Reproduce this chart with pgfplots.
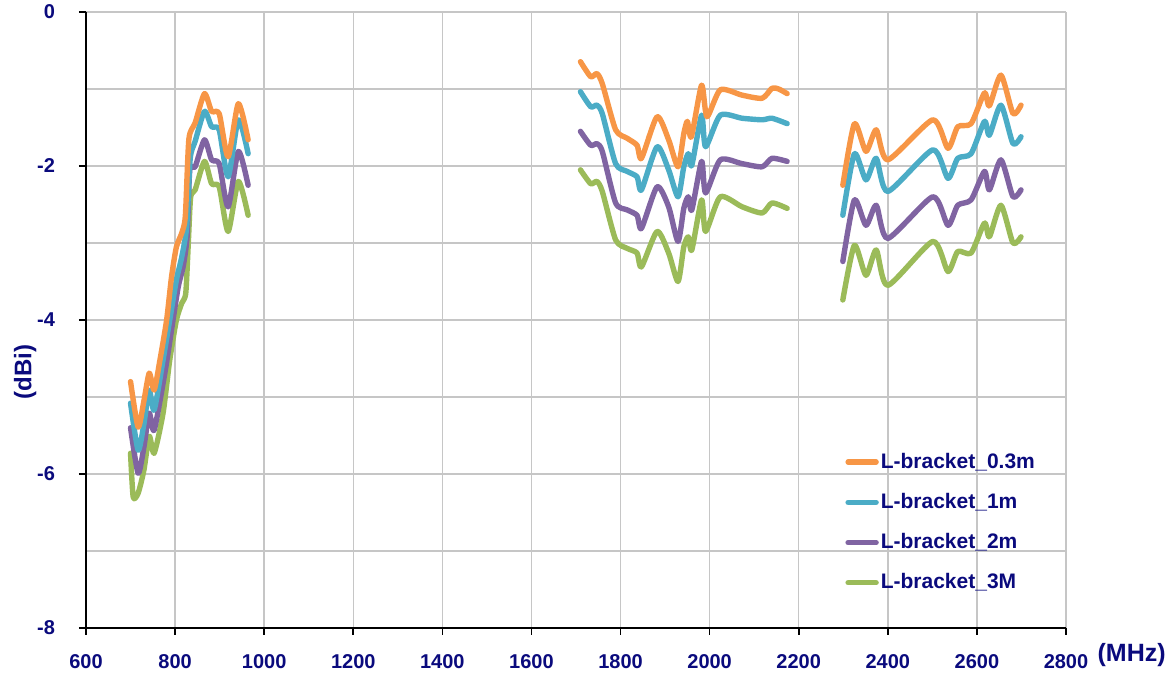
\documentclass[border=0pt]{standalone}
\usepackage{pgfplots}
\pgfplotsset{compat=1.18}
\usepackage{fontspec}
\setmainfont{Liberation Sans}
\definecolor{cO}{HTML}{F79646}
\definecolor{cC}{HTML}{4BACC6}
\definecolor{cP}{HTML}{8064A2}
\definecolor{cG}{HTML}{9BBB59}
\definecolor{navy}{RGB}{10,10,125}
\begin{document}
\begin{tikzpicture}
\useasboundingbox (-43pt,-23pt) rectangle (541.5pt,314pt);
\begin{axis}[at={(0,0)}, anchor=south west, scale only axis, width=490pt, height=308pt,
  xmin=600, xmax=2800, ymin=-8, ymax=0,
  xtick={600,800,...,2800}, ytick={-8,-6,...,0}, minor ytick={-7,-5,-3,-1},
  grid=both,
  major grid style={draw=gray!45, line width=0.75pt},
  minor grid style={draw=gray!45, line width=0.75pt},
  axis lines=left, axis line style={-, black, line width=0.8pt},
  tick align=outside, major tick length=3.5pt, minor tick length=0pt,
  tick style={black, line width=0.8pt},
  /pgf/number format/assume math mode=true, /pgf/number format/1000 sep={},
  ticklabel style={font=\bfseries\fontsize{10}{12}\selectfont, text=navy},
  xticklabel style={yshift=-6pt},
  yticklabel style={xshift=-8.5pt},
  clip=false,
  legend style={at={(rel axis cs:0.7745,0.288)}, anchor=north west, draw=none, fill=none,
    font=\bfseries\fontsize{10.5}{12}\selectfont, text=navy, row sep=9pt, inner sep=0pt,
    nodes={inner sep=1pt}},
  legend cell align=left,
  legend image code/.code={\draw[#1] (0pt,0pt) -- (14pt,0pt);},
  every axis plot/.append style={line width=2.7pt, line cap=round, line join=round, smooth, tension=0.4},
]
\addlegendimage{cO, line width=2.7pt, line cap=round}
\addlegendentry{L-bracket\_0.3m}
\addlegendimage{cC, line width=2.7pt, line cap=round}
\addlegendentry{L-bracket\_1m}
\addlegendimage{cP, line width=2.7pt, line cap=round}
\addlegendentry{L-bracket\_2m}
\addlegendimage{cG, line width=2.7pt, line cap=round}
\addlegendentry{L-bracket\_3M}

% ---- green
\addplot[cG, forget plot] coordinates {(700,-5.73) (706,-6.30) (717,-6.25) (730,-5.95) (742,-5.51) (753,-5.73) (773,-5.21) (788,-4.52) (803,-4.00) (815,-3.78) (824,-3.65) (830,-2.96) (835,-2.40) (845,-2.31) (866,-1.94) (882,-2.23) (899,-2.27) (919,-2.85) (942,-2.20) (964,-2.64)};
\addplot[cG, forget plot] coordinates {(1710,-2.05) (1733,-2.23) (1747,-2.20) (1759,-2.33) (1789,-2.96) (1815,-3.07) (1837,-3.13) (1847,-3.31) (1882,-2.85) (1908,-3.13) (1929,-3.50) (1942,-3.05) (1952,-2.92) (1960,-3.09) (1982,-2.44) (1991,-2.85) (2024,-2.40) (2073,-2.53) (2118,-2.61) (2140,-2.48) (2174,-2.55)};
\addplot[cG, forget plot] coordinates {(2299,-3.74) (2325,-3.03) (2351,-3.42) (2374,-3.09) (2400,-3.55) (2501,-2.98) (2535,-3.37) (2557,-3.11) (2587,-3.13) (2617,-2.74) (2628,-2.92) (2654,-2.51) (2681,-3.00) (2699,-2.92)};
% ---- purple
\addplot[cP, forget plot] coordinates {(700,-5.40) (717,-5.99) (730,-5.65) (742,-5.21) (753,-5.43) (777,-4.69) (792,-4.13) (807,-3.57) (818,-3.31) (827,-2.92) (833,-2.05) (845,-2.01) (866,-1.66) (882,-1.92) (899,-1.97) (919,-2.53) (942,-1.81) (964,-2.25)};
\addplot[cP, forget plot] coordinates {(1710,-1.55) (1733,-1.73) (1747,-1.71) (1759,-1.81) (1789,-2.48) (1815,-2.57) (1837,-2.64) (1847,-2.81) (1882,-2.27) (1908,-2.53) (1929,-2.98) (1942,-2.55) (1952,-2.40) (1960,-2.57) (1982,-1.94) (1991,-2.35) (2024,-1.92) (2073,-1.97) (2118,-2.01) (2140,-1.90) (2174,-1.94)};
\addplot[cP, forget plot] coordinates {(2299,-3.24) (2325,-2.44) (2351,-2.77) (2374,-2.51) (2400,-2.94) (2501,-2.40) (2535,-2.77) (2557,-2.51) (2587,-2.44) (2617,-2.07) (2628,-2.31) (2654,-1.92) (2681,-2.40) (2699,-2.31)};
% ---- cyan
\addplot[cC, forget plot] coordinates {(700,-5.08) (717,-5.69) (730,-5.35) (742,-4.91) (753,-5.17) (773,-4.52) (788,-4.00) (803,-3.48) (815,-3.18) (826,-2.79) (834,-1.90) (845,-1.68) (866,-1.29) (882,-1.49) (899,-1.53) (919,-2.14) (942,-1.40) (964,-1.84)};
\addplot[cC, forget plot] coordinates {(1710,-1.035) (1733,-1.23) (1747,-1.21) (1759,-1.32) (1789,-1.97) (1815,-2.07) (1837,-2.14) (1847,-2.31) (1882,-1.75) (1908,-2.05) (1929,-2.40) (1942,-2.01) (1952,-1.84) (1960,-1.99) (1982,-1.34) (1991,-1.75) (2024,-1.34) (2073,-1.38) (2118,-1.40) (2140,-1.38) (2174,-1.45)};
\addplot[cC, forget plot] coordinates {(2299,-2.64) (2325,-1.84) (2351,-2.18) (2374,-1.90) (2400,-2.33) (2501,-1.79) (2535,-2.16) (2557,-1.90) (2587,-1.84) (2617,-1.42) (2628,-1.60) (2654,-1.21) (2681,-1.71) (2699,-1.62)};
% ---- orange
\addplot[cO, forget plot] coordinates {(700,-4.80) (717,-5.39) (730,-5.05) (742,-4.69) (753,-4.91) (766,-4.52) (781,-4.00) (792,-3.44) (803,-3.05) (815,-2.87) (823,-2.65) (831,-1.65) (845,-1.44) (866,-1.06) (882,-1.29) (899,-1.32) (919,-1.88) (942,-1.19) (964,-1.66)};
\addplot[cO, forget plot] coordinates {(1710,-0.645) (1733,-0.84) (1747,-0.80) (1759,-0.93) (1789,-1.53) (1815,-1.64) (1837,-1.73) (1847,-1.90) (1882,-1.36) (1908,-1.66) (1929,-2.01) (1942,-1.58) (1950,-1.42) (1959,-1.62) (1982,-0.95) (1994,-1.36) (2024,-1.01) (2073,-1.08) (2118,-1.12) (2140,-0.99) (2155,-1.00) (2174,-1.06)};
\addplot[cO, forget plot] coordinates {(2299,-2.25) (2325,-1.45) (2351,-1.81) (2374,-1.53) (2400,-1.92) (2501,-1.40) (2535,-1.77) (2557,-1.49) (2587,-1.45) (2617,-1.05) (2628,-1.22) (2654,-0.82) (2681,-1.32) (2699,-1.21)};

\node[rotate=90, font=\bfseries\fontsize{12}{14}\selectfont, text=navy] at (rel axis cs:-0.062,0.416) {(dBi)};
\node[font=\bfseries\fontsize{12.5}{14}\selectfont, text=navy] at (rel axis cs:1.067,-0.044) {(MHz)};
\end{axis}
\end{tikzpicture}
\end{document}
